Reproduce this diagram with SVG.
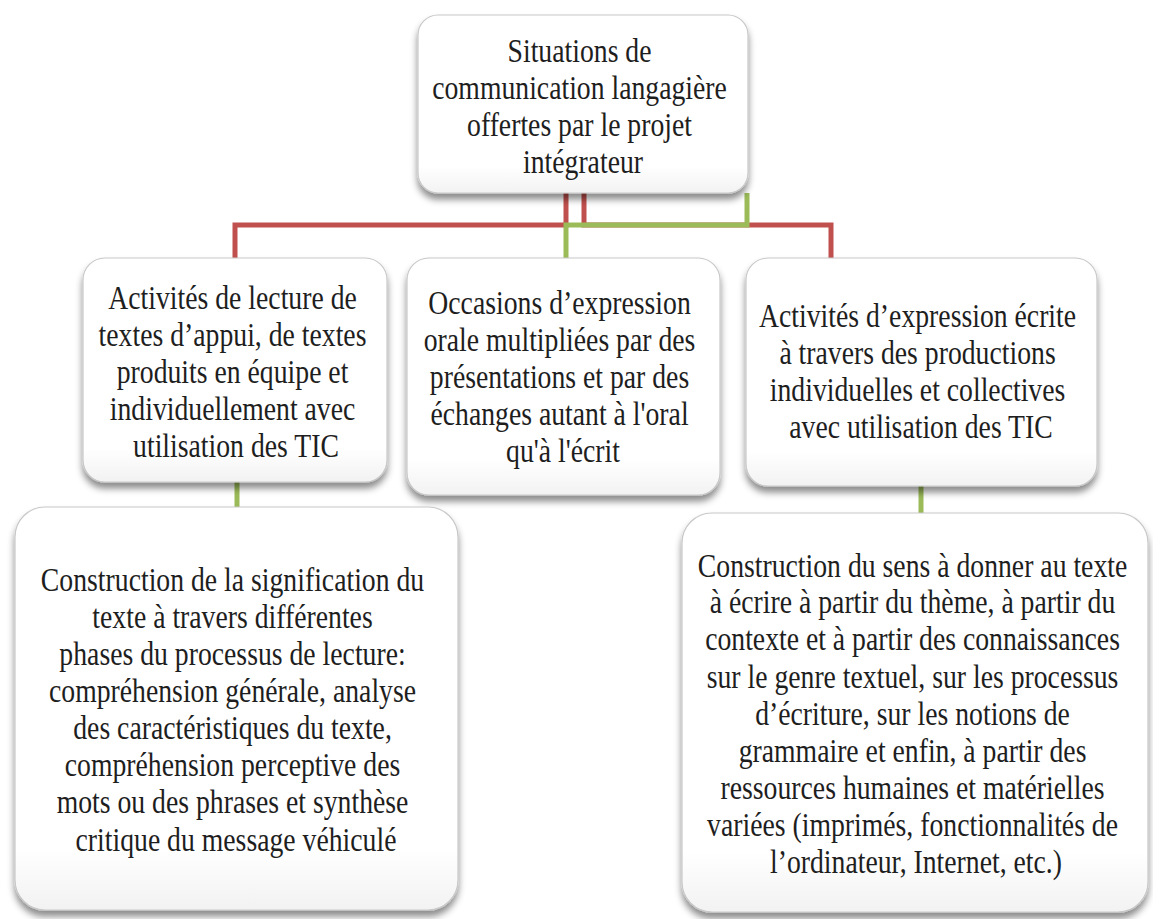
<svg xmlns="http://www.w3.org/2000/svg" width="1153" height="919" viewBox="0 0 1153 919">
<defs>
<filter id="sh" x="-10%" y="-10%" width="120%" height="130%">
<feDropShadow dx="0" dy="6" stdDeviation="3.5" flood-color="#000" flood-opacity="0.45"/>
</filter>
<linearGradient id="g" x1="0" y1="0" x2="0" y2="1">
<stop offset="0" stop-color="#ffffff"/>
<stop offset="0.85" stop-color="#ffffff"/>
<stop offset="1" stop-color="#f2f2f2"/>
</linearGradient>
</defs>
<style>
.box{fill:url(#g);stroke:#c8c8c8;stroke-width:1.2;filter:url(#sh)}
.t{font-family:"Liberation Serif","DejaVu Serif",serif;font-size:33px;fill:#1e1e1e;text-anchor:middle}
.red{stroke:#c0504d;stroke-width:5;fill:none}
.grn{stroke:#9bbb59;stroke-width:5;fill:none}
</style>
<rect width="1153" height="919" fill="#ffffff"/>
<g id="connectors">
<path class="red" d="M566,193 V225 H235 V258"/>
<path class="red" d="M584,193 V225 H831 V258"/>
<path class="grn" d="M747,193 V225 H566 V258"/>
<path class="grn" d="M237,482 V507"/>
<path class="grn" d="M921,486 V513"/>
</g>
<g id="n-top">
<rect class="box" x="418" y="15" width="330" height="178" rx="20"/>
<text class="t" transform="translate(583,0) scale(0.84,1)">
<tspan x="0" y="62">Situations de</tspan>
<tspan x="0" y="99">communication langagière</tspan>
<tspan x="0" y="136">offertes par le projet</tspan>
<tspan x="0" y="173">intégrateur</tspan>
</text>
</g>
<g id="n-lecture">
<rect class="box" x="83" y="258" width="304" height="224" rx="22"/>
<text class="t" transform="translate(236,0) scale(0.84,1)">
<tspan x="0" y="309">Activités de lecture de</tspan>
<tspan x="0" y="346">textes d’appui, de textes</tspan>
<tspan x="0" y="383">produits en équipe et</tspan>
<tspan x="0" y="420">individuellement avec</tspan>
<tspan x="0" y="457">utilisation des TIC</tspan>
</text>
</g>
<g id="n-orale">
<rect class="box" x="407" y="258" width="313" height="237" rx="22"/>
<text class="t" transform="translate(563,0) scale(0.84,1)">
<tspan x="0" y="314">Occasions d’expression</tspan>
<tspan x="0" y="351">orale multipliées par des</tspan>
<tspan x="0" y="388">présentations et par des</tspan>
<tspan x="0" y="425">échanges autant à l'oral</tspan>
<tspan x="0" y="462">qu'à l'écrit</tspan>
</text>
</g>
<g id="n-ecrite">
<rect class="box" x="746" y="258" width="351" height="228" rx="22"/>
<text class="t" transform="translate(921,0) scale(0.84,1)">
<tspan x="0" y="327">Activités d’expression écrite</tspan>
<tspan x="0" y="364">à travers des productions</tspan>
<tspan x="0" y="401">individuelles et collectives</tspan>
<tspan x="0" y="438">avec utilisation des TIC</tspan>
</text>
</g>
<g id="n-signification">
<rect class="box" x="15" y="507" width="443" height="403" rx="30"/>
<text class="t" transform="translate(236,0) scale(0.84,1)">
<tspan x="0" y="591">Construction de la signification du</tspan>
<tspan x="0" y="628">texte à travers différentes</tspan>
<tspan x="0" y="665">phases du processus de lecture:</tspan>
<tspan x="0" y="702">compréhension générale, analyse</tspan>
<tspan x="0" y="739">des caractéristiques du texte,</tspan>
<tspan x="0" y="776">compréhension perceptive des</tspan>
<tspan x="0" y="813">mots ou des phrases et synthèse</tspan>
<tspan x="0" y="851">critique du message véhiculé</tspan>
</text>
</g>
<g id="n-sens">
<rect class="box" x="682" y="513" width="466" height="399" rx="30"/>
<text class="t" transform="translate(916,0) scale(0.84,1)">
<tspan x="0" y="577">Construction du sens à donner au texte</tspan>
<tspan x="0" y="613">à écrire à partir du thème, à partir du</tspan>
<tspan x="0" y="650">contexte et à partir des connaissances</tspan>
<tspan x="0" y="688">sur le genre textuel, sur les processus</tspan>
<tspan x="0" y="725">d’écriture, sur les notions de</tspan>
<tspan x="0" y="762">grammaire et enfin, à partir des</tspan>
<tspan x="0" y="799">ressources humaines et matérielles</tspan>
<tspan x="0" y="836">variées (imprimés, fonctionnalités de</tspan>
<tspan x="0" y="873">l’ordinateur, Internet, etc.)</tspan>
</text>
</g>
</svg>
